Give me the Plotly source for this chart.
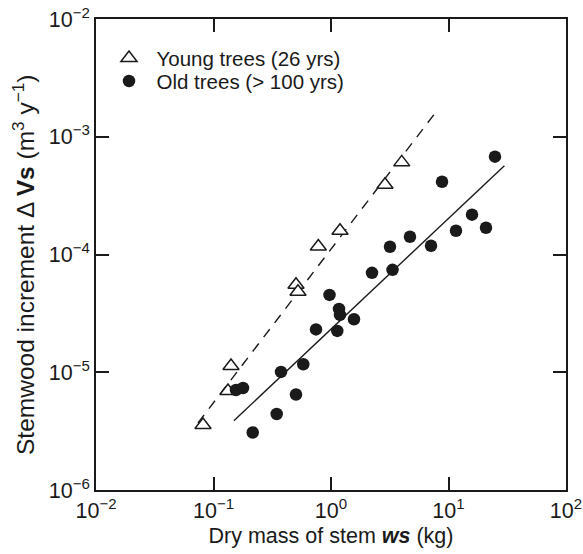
import plotly.graph_objects as go

# --- data ---
young_ws = [0.0814, 0.1328, 0.1409, 0.5036, 0.5237, 0.78, 1.193, 2.88, 4.0]
young_vs = [3.56e-6, 6.93e-6, 1.131e-5, 5.53e-5, 4.82e-5, 1.17e-4, 1.59e-4, 3.91e-4, 6.06e-4]

old_ws = [0.1554, 0.1783, 0.2157, 0.345, 0.3754, 0.5036, 0.581, 0.7455, 0.971,
          1.131, 1.17, 1.193, 1.569, 2.233, 3.337, 3.177, 4.70, 7.10, 8.81,
          11.58, 15.85, 20.85, 24.87]
old_vs = [7.07e-6, 7.35e-6, 3.08e-6, 4.42e-6, 1.006e-5, 6.47e-6, 1.17e-5, 2.31e-5, 4.54e-5,
          2.245e-5, 3.45e-5, 3.07e-5, 2.82e-5, 6.99e-5, 7.41e-5, 1.163e-4, 1.414e-4, 1.186e-4, 4.15e-4,
          1.59e-4, 2.18e-4, 1.687e-4, 6.77e-4]

young_fit_ws = [0.0738, 7.63]
young_fit_vs = [3.71e-6, 1.572e-3]
old_fit_ws = [0.149, 29.9]
old_fit_vs = [3.87e-6, 5.68e-4]

tick_vals_x = [0.01, 0.1, 1, 10, 100]
tick_text_x = ["10<sup>\u22122</sup>", "10<sup>\u22121</sup>", "10<sup>0</sup>", "10<sup>1</sup>", "10<sup>2</sup>"]
tick_vals_y = [1e-6, 1e-5, 1e-4, 1e-3, 1e-2]
tick_text_y = ["10<sup>\u22126</sup>", "10<sup>\u22125</sup>", "10<sup>\u22124</sup>", "10<sup>\u22123</sup>", "10<sup>\u22122</sup>"]

y_title = "Stemwood increment \u0394 <b>Vs</b> (m<sup>3</sup> y<sup>\u22121</sup>)"
x_title = "Dry mass of stem <b><i>ws</i></b> (kg)"

FONT = "Liberation Sans, Arial, Helvetica, sans-serif"
INK = "#1a1a1a"
FS = 21.5

fig = go.Figure()
fig.add_trace(go.Scatter(x=young_fit_ws, y=young_fit_vs, mode="lines",
                         line=dict(color=INK, width=1.4, dash="10px,8px"),
                         showlegend=False, hoverinfo="skip"))
fig.add_trace(go.Scatter(x=old_fit_ws, y=old_fit_vs, mode="lines",
                         line=dict(color=INK, width=1.4),
                         showlegend=False, hoverinfo="skip"))
fig.add_trace(go.Scatter(x=young_ws, y=young_vs, mode="markers", name="Young trees (26 yrs)",
                         legend="legend",
                         marker=dict(symbol="triangle-up", size=14, color="white",
                                     line=dict(color=INK, width=1.5))))
fig.add_trace(go.Scatter(x=old_ws, y=old_vs, mode="markers", name="Old trees (> 100 yrs)",
                         legend="legend2",
                         marker=dict(symbol="circle", size=12.5, color=INK,
                                     line=dict(width=0))))

axis_common = dict(
    type="log", showline=True, linecolor=INK, linewidth=1.5, mirror="ticks",
    ticks="inside", ticklen=13, tickwidth=1.5, tickcolor=INK,
    showgrid=False, zeroline=False, tickmode="array",
    tickfont=dict(family=FONT, size=FS, color=INK),
)

fig.update_xaxes(range=[-2, 2], tickvals=tick_vals_x, ticktext=tick_text_x,
                 title=dict(text=x_title,
                            font=dict(family=FONT, size=FS, color=INK), standoff=6),
                 **axis_common)
fig.update_yaxes(range=[-6, -2], tickvals=tick_vals_y, ticktext=tick_text_y,
                 **axis_common)

# y-axis title as a rotated annotation for precise placement
fig.add_annotation(text=y_title, textangle=-90, showarrow=False,
                   xref="paper", yref="paper", x=(23 - 96) / 470, y=(490 - 265) / 471,
                   xanchor="center", yanchor="middle",
                   font=dict(family=FONT, size=24.5, color=INK))

leg_common = dict(x=0.0117, xanchor="left", yanchor="middle",
                  bgcolor="rgba(0,0,0,0)", borderwidth=0,
                  font=dict(family=FONT, size=20.5, color=INK),
                  itemsizing="trace", itemwidth=45)

fig.update_layout(
    width=583, height=554,
    margin=dict(l=96, r=17, t=19, b=64, autoexpand=False),
    plot_bgcolor="white", paper_bgcolor="white",
    font=dict(family=FONT, size=FS, color=INK),
    legend=dict(y=0.917, **leg_common),
    legend2=dict(y=0.868, **leg_common),
)

fig.write_html("out.html")
